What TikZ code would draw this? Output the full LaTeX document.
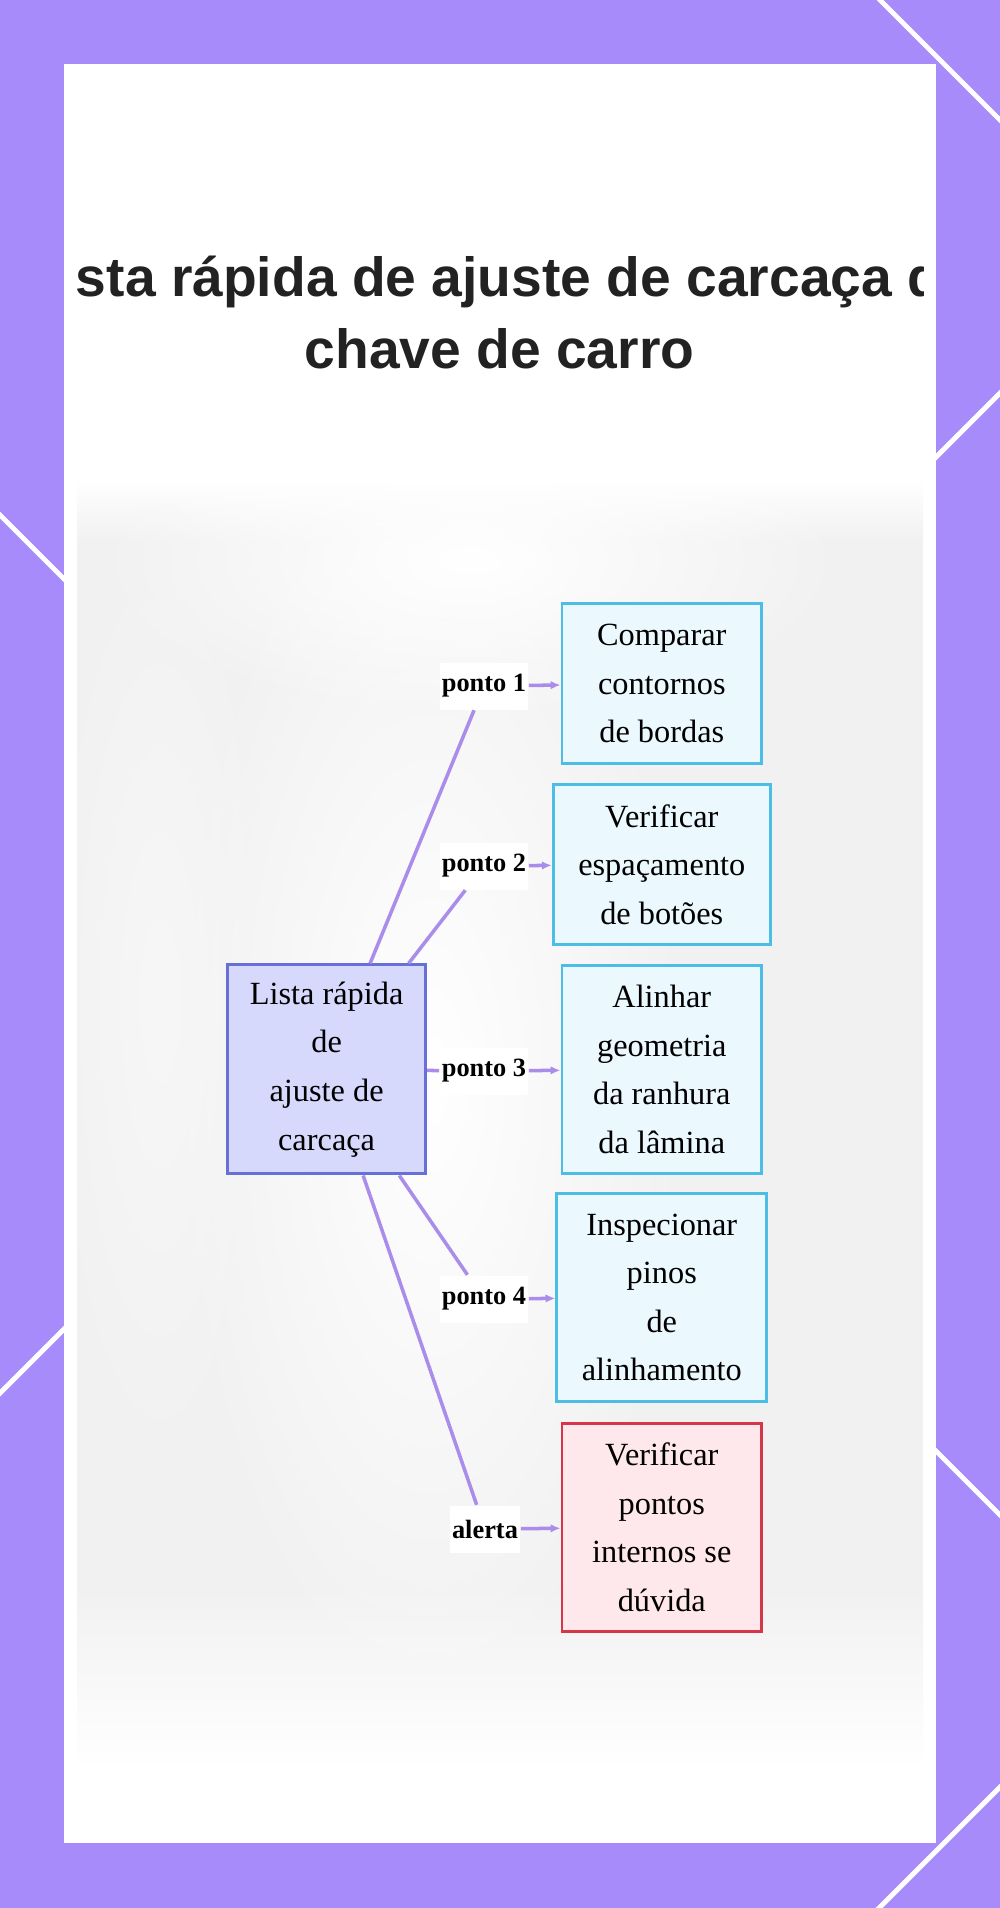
\documentclass[tikz,border=0pt]{standalone}
\usepackage{fontspec}
\setmainfont{Liberation Serif}
\newfontfamily\headfont{Liberation Sans}
\usetikzlibrary{arrows.meta,fadings}

\definecolor{bgpurple}{RGB}{167,139,250}
\definecolor{hubfill}{RGB}{214,217,252}
\definecolor{hubline}{RGB}{104,112,216}
\definecolor{boxfill}{RGB}{235,248,254}
\definecolor{boxline}{RGB}{76,190,230}
\definecolor{alertfill}{RGB}{255,232,236}
\definecolor{alertline}{RGB}{214,54,72}
\definecolor{linkcol}{RGB}{170,140,235}
\definecolor{titlecol}{RGB}{34,34,34}

\newcommand{\boxfont}{\fontsize{9.2pt}{13.8pt}\selectfont}
\tikzfading[name=softspot, inner color=transparent!0, outer color=transparent!100]

\begin{document}
\begin{tikzpicture}[x=0.01cm, y=-0.01cm,
	hub/.style={draw=hubline, fill=hubfill, line width=0.85pt, align=center, font=\boxfont, minimum width=1.98cm, minimum height=2.09cm},
	checkbox/.style={draw=boxline, fill=boxfill, line width=0.85pt, align=center, font=\boxfont, inner xsep=0.25cm, minimum width=1.995cm, minimum height=1.6cm},
	tall/.style={minimum height=2.085cm},
	alertbox/.style={checkbox, draw=alertline, fill=alertfill},
	lbl/.style={fill=white, inner xsep=0.6pt, inner ysep=0pt, minimum height=0.47cm, font=\fontsize{7.5pt}{9pt}\selectfont\bfseries},
	headline/.style={font=\headfont\bfseries\fontsize{15.7pt}{20pt}\selectfont, text=titlecol, inner sep=0pt},
	link/.style={draw=linkcol, line width=1pt},
	flow/.style={link, ->, >={Latex[length=2.8pt,width=2.4pt]}}]
	\useasboundingbox (0,0) rectangle (1000,1908);
	% moldura
	\fill[bgpurple] (0,0) rectangle (1000,1908);
	\begin{scope}
		\clip (0,0) rectangle (1000,1908);
		\draw[white, line width=1.4pt] (870,-10) -- (1010,130);
		\draw[white, line width=1.4pt] (-10,1403) -- (1010,383);
		\draw[white, line width=1.4pt] (-10,505) -- (1010,1525);
		\draw[white, line width=1.4pt] (869,1918) -- (1010,1777);
	\end{scope}
	\fill[white] (64,64) rectangle (935.5,1843);
	% fundo borrado
	\begin{scope}
		\clip (77,400) rectangle (923,1800);
		\fill[gray!11] (77,540) rectangle (923,1590);
		\shade[top color=white, bottom color=gray!11] (77,480) rectangle (923,541);
		\shade[top color=gray!11, bottom color=white] (77,1589) rectangle (923,1770);
		\fill[white, path fading=softspot] (430,1080) ellipse [x radius=260, y radius=640];
		\fill[white, path fading=softspot] (470,560) ellipse [x radius=380, y radius=160];
		\fill[gray!6, path fading=softspot] (160,1000) ellipse [x radius=120, y radius=500];
	\end{scope}
	% titulo
	\begin{scope}
		\clip (76,150) rectangle (923,420);
		\node[headline, anchor=base] (title1) at (499.5,296) {Lista rápida de ajuste de carcaça da};
	\end{scope}
	\node[headline, anchor=base] (title2) at (499.5,368) {chave de carro};
	% caixas
	\node[hub] (hub) at (326.6,1069.4) {Lista rápida\\de\\ajuste de\\carcaça};
	\node[checkbox] (c1) at (661.8,683.7) {Comparar\\contornos\\de bordas};
	\node[checkbox] (c2) at (661.8,864.3) {Verificar\\espaçamento\\de botões};
	\node[checkbox, tall] (c3) at (661.8,1069.4) {Alinhar\\geometria\\da ranhura\\da lâmina};
	\node[checkbox, tall] (c4) at (661.8,1297.4) {Inspecionar\\pinos\\de\\alinhamento};
	\node[alertbox, tall] (c5) at (661.8,1527.3) {Verificar\\pontos\\internos se\\dúvida};
	% rotulos
	\node[lbl] (l1) at (484,686) {ponto 1};
	\node[lbl] (l2) at (484,866) {ponto 2};
	\node[lbl] (l3) at (484,1071) {ponto 3};
	\node[lbl] (l4) at (484,1299) {ponto 4};
	\node[lbl] (l5) at (485,1529) {alerta};
	% ligacoes
	\foreach \i in {1,...,5}{
		\draw[link] (hub) -- (l\i);
		\draw[flow] (l\i) -- (c\i);
	}
\end{tikzpicture}
\end{document}
